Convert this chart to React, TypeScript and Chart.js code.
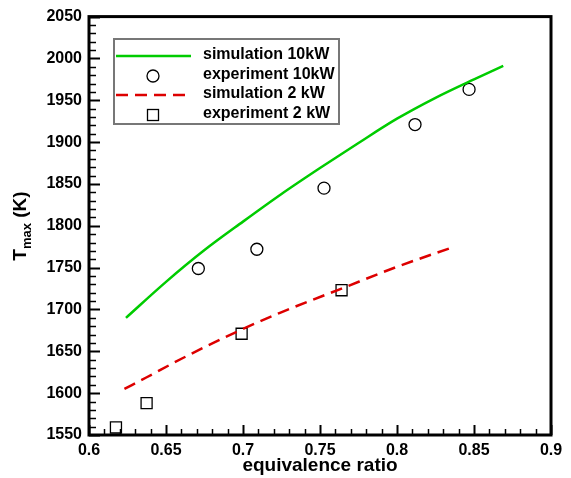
import { useEffect, useRef } from 'react';
import { Chart, registerables } from 'chart.js';

Chart.register(...registerables);

// ---- data ----
const sim10X = [0.624, 0.65, 0.675, 0.7, 0.725, 0.75, 0.775, 0.8, 0.825, 0.85, 0.869];
const sim10Y = [1690, 1733, 1771, 1805, 1838, 1869, 1899, 1928, 1953, 1975, 1991];

const exp10X = [0.671, 0.709, 0.7526, 0.8117, 0.8468];
const exp10Y = [1749, 1772, 1845, 1921, 1963];

const sim2X = [0.623, 0.6375, 0.661, 0.699, 0.724, 0.764, 0.8, 0.834];
const sim2Y = [1605, 1619, 1642, 1676, 1696, 1725, 1751, 1773];

const exp2X = [0.6175, 0.6374, 0.6991, 0.764];
const exp2Y = [1559, 1588, 1671, 1723];

const xTickValues = [0.6, 0.65, 0.7, 0.75, 0.8, 0.85, 0.9];
const yTickValues = [1550, 1600, 1650, 1700, 1750, 1800, 1850, 1900, 1950, 2000, 2050];

const legendLabels = ['simulation 10kW', 'experiment 10kW', 'simulation 2 kW', 'experiment 2 kW'];
const xTitle = 'equivalence ratio';

const GREEN = '#00cc00';
const RED = '#dd0000';
const FONT = '"Liberation Sans", Arial, sans-serif';

const zip = (xs: number[], ys: number[]) => xs.map((x, i) => ({ x, y: ys[i] }));

const framePlugin = {
  id: 'framePlugin',
  afterDraw(chart: any) {
    const ctx = chart.ctx as CanvasRenderingContext2D;
    const { left, right, top, bottom } = chart.chartArea;
    const xs = chart.scales.x;
    const ys = chart.scales.y;
    ctx.save();
    ctx.strokeStyle = '#000';
    for (let i = 0; i <= 30; i++) {
      const v = 0.6 + i * 0.01;
      const px = Math.round(xs.getPixelForValue(v)) + 0.5;
      const len = i % 5 === 0 ? 10 : 6;
      ctx.lineWidth = i % 5 === 0 ? 2 : 1.5;
      ctx.beginPath();
      ctx.moveTo(px, bottom);
      ctx.lineTo(px, bottom - len);
      ctx.stroke();
    }
    for (let i = 0; i <= 50; i++) {
      const v = 1550 + i * 10;
      const py = Math.round(ys.getPixelForValue(v)) + 0.5;
      const len = i % 5 === 0 ? 11 : 7;
      ctx.lineWidth = i % 5 === 0 ? 2 : 1.5;
      ctx.beginPath();
      ctx.moveTo(left, py);
      ctx.lineTo(left + len, py);
      ctx.stroke();
    }
    // frame
    ctx.lineWidth = 3;
    ctx.strokeRect(left, top, right - left, bottom - top);

    // legend
    const lx = 114, ly = 39, lw = 225, lh = 85;
    ctx.fillStyle = '#fff';
    ctx.fillRect(lx, ly, lw, lh);
    ctx.strokeStyle = '#777';
    ctx.lineWidth = 2;
    ctx.strokeRect(lx, ly, lw, lh);
    const rows = [56, 76, 95, 115];
    ctx.strokeStyle = GREEN;
    ctx.lineWidth = 2.5;
    ctx.beginPath();
    ctx.moveTo(116, rows[0]);
    ctx.lineTo(191, rows[0]);
    ctx.stroke();
    ctx.strokeStyle = '#000';
    ctx.lineWidth = 1.3;
    ctx.beginPath();
    ctx.arc(153, rows[1], 6, 0, Math.PI * 2);
    ctx.stroke();
    ctx.strokeStyle = RED;
    ctx.lineWidth = 2.5;
    ctx.setLineDash([12, 7]);
    ctx.beginPath();
    ctx.moveTo(116, rows[2]);
    ctx.lineTo(191, rows[2]);
    ctx.stroke();
    ctx.setLineDash([]);
    ctx.strokeStyle = '#000';
    ctx.lineWidth = 1.3;
    ctx.strokeRect(147.5, rows[3] - 5.5, 11, 11);
    ctx.fillStyle = '#000';
    ctx.font = `bold 16px ${FONT}`;
    ctx.textBaseline = 'middle';
    ctx.textAlign = 'left';
    legendLabels.forEach((t, i) => ctx.fillText(t, 203, rows[i] - 1));

    // x title
    ctx.font = `bold 19px ${FONT}`;
    ctx.textAlign = 'center';
    ctx.textBaseline = 'middle';
    ctx.fillText(xTitle, (left + right) / 2, 466);

    // y title: T_max (K)
    ctx.translate(26, 226);
    ctx.rotate(-Math.PI / 2);
    ctx.textBaseline = 'alphabetic';
    ctx.textAlign = 'left';
    const bigF = `bold 19px ${FONT}`;
    const smallF = `bold 13px ${FONT}`;
    ctx.font = bigF;
    const wT = ctx.measureText('T').width;
    const wK = ctx.measureText(' (K)').width;
    ctx.font = smallF;
    const wM = ctx.measureText('max').width;
    const total = wT + wM + wK;
    let cx = -total / 2;
    ctx.font = bigF;
    ctx.fillText('T', cx, 0);
    cx += wT;
    ctx.font = smallF;
    ctx.fillText('max', cx, 5);
    cx += wM;
    ctx.font = bigF;
    ctx.fillText(' (K)', cx, 0);
    ctx.restore();
  },
};

export default function App() {
  const ref = useRef<HTMLCanvasElement>(null);
  useEffect(() => {
    document.body.style.margin = '0';
    const canvas = ref.current!;
    const chart = new Chart(canvas, {
      type: 'scatter',
      data: {
        datasets: [
          {
            label: legendLabels[0],
            data: zip(sim10X, sim10Y),
            showLine: true,
            borderColor: GREEN,
            borderWidth: 2.5,
            pointRadius: 0,
            tension: 0.4,
            cubicInterpolationMode: 'monotone',
          },
          {
            label: legendLabels[2],
            data: zip(sim2X, sim2Y),
            showLine: true,
            borderColor: RED,
            borderWidth: 2.5,
            borderDash: [12, 7],
            pointRadius: 0,
            tension: 0.4,
            cubicInterpolationMode: 'monotone',
          },
          {
            label: legendLabels[1],
            data: zip(exp10X, exp10Y),
            showLine: false,
            pointStyle: 'circle',
            pointRadius: 6,
            borderColor: '#000',
            backgroundColor: 'rgba(0,0,0,0)',
            borderWidth: 1.3,
          },
          {
            label: legendLabels[3],
            data: zip(exp2X, exp2Y),
            showLine: false,
            pointStyle: 'rect',
            pointRadius: 7.8,
            borderColor: '#000',
            backgroundColor: 'rgba(0,0,0,0)',
            borderWidth: 1.3,
          },
        ],
      },
      options: {
        animation: false,
        responsive: false,
        events: [],
        layout: { padding: { top: 15, right: 20, left: 0, bottom: 0 } },
        plugins: { legend: { display: false }, tooltip: { enabled: false } },
        scales: {
          x: {
            type: 'linear',
            min: 0.6,
            max: 0.9,
            grid: { display: false, drawTicks: false, tickLength: 0 },
            border: { display: false },
            afterBuildTicks: (s: any) => {
              s.ticks = xTickValues.map((v) => ({ value: v }));
            },
            afterFit: (s: any) => {
              s.height = 43;
            },
            ticks: {
              color: '#000',
              font: { family: FONT, size: 16, weight: 'bold' },
              padding: 6,
              maxRotation: 0,
              autoSkip: false,
              callback: (v: any) => String(+Number(v).toFixed(2)),
            },
          },
          y: {
            type: 'linear',
            min: 1550,
            max: 2050,
            grid: { display: false, drawTicks: false, tickLength: 0 },
            border: { display: false },
            afterBuildTicks: (s: any) => {
              s.ticks = yTickValues.map((v) => ({ value: v }));
            },
            afterFit: (s: any) => {
              s.width = 89;
            },
            ticks: {
              color: '#000',
              font: { family: FONT, size: 16, weight: 'bold' },
              padding: 7,
              autoSkip: false,
              callback: (v: any) => String(v),
            },
          },
        },
      },
      plugins: [framePlugin],
    } as any);
    return () => chart.destroy();
  }, []);
  return (
    <div style={{ position: 'absolute', left: 0, top: 0, width: 571, height: 478 }}>
      <canvas ref={ref} width={571} height={478} />
    </div>
  );
}
